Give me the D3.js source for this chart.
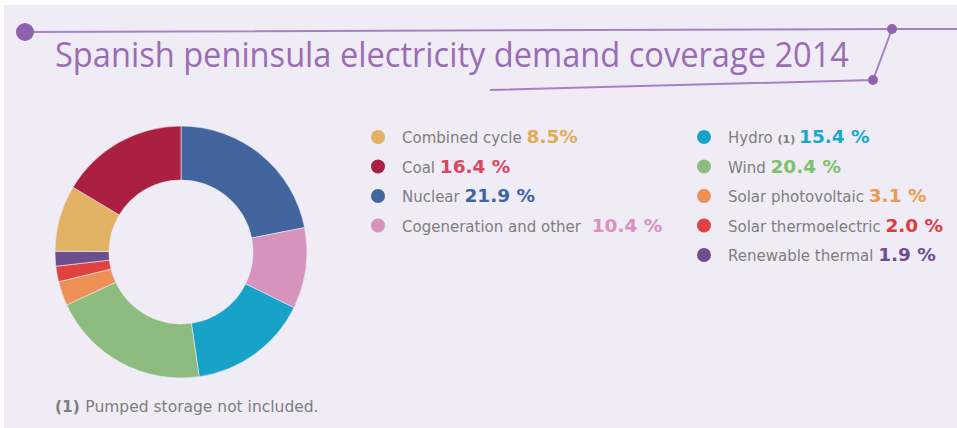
<!DOCTYPE html>
<meta charset="utf-8">
<style>
body { margin: 0; background: #fff; }
text { font-family: "DejaVu Sans", sans-serif; }
text.title { font-family: "Open Sans", sans-serif; }
</style>
<body>
<script src="https://d3js.org/d3.v7.min.js"></script>
<script>

const width = 957,
    height = 428

// slices clockwise from 12 o'clock
const sources = ['Nuclear', 'Cogeneration and other', 'Hydro', 'Wind', 'Solar photovoltaic',
    'Solar thermoelectric', 'Renewable thermal', 'Combined cycle', 'Coal']
const shares = [21.9, 10.4, 15.4, 20.4, 3.1, 2.0, 1.9, 8.5, 16.4]
const sliceColors = ['#41659c', '#d593bd', '#17a3c8', '#8dbd7e', '#ee9055',
    '#e04242', '#6c4f8e', '#e1b164', '#ab1f40']
const valueColors = ['#3e64a8', '#dc8fc0', '#1ba6cf', '#7fc06d', '#f0984d',
    '#e03a3e', '#6e4d92', '#e2ac55', '#d9475f']

// legend columns, as printed
const legendLeft = ['Combined cycle', 'Coal', 'Nuclear', 'Cogeneration and other']
const legendRight = ['Hydro', 'Wind', 'Solar photovoltaic', 'Solar thermoelectric', 'Renewable thermal']
const valueLabels = {
    'Combined cycle': '8.5%', 'Coal': '16.4 %', 'Nuclear': '21.9 %',
    'Cogeneration and other': '10.4 %', 'Hydro': '15.4 %', 'Wind': '20.4 %',
    'Solar photovoltaic': '3.1 %', 'Solar thermoelectric': '2.0 %', 'Renewable thermal': '1.9 %'
}

const title = 'Spanish peninsula electricity demand coverage 2014'
const footnote = 'Pumped storage not included.'

var svg = d3.select('body')
    .append('svg')
    .attr('width', width)
    .attr('height', height)

svg.append('rect')
    .attr('x', 4).attr('y', 5)
    .attr('width', width - 4).attr('height', height - 5)
    .attr('fill', '#efecf6')

// title decoration
var deco = svg.append('g')
    .attr('stroke', '#a583c2')
    .attr('stroke-width', 2)
    .attr('fill', 'none')

deco.append('path').attr('d', 'M25,32 L892,29 L957,29')
deco.append('path').attr('d', 'M892,29 L873,80 L490,90')

svg.append('circle').attr('cx', 25).attr('cy', 32).attr('r', 9).attr('fill', '#8f62ae')
svg.append('circle').attr('cx', 892).attr('cy', 29).attr('r', 5).attr('fill', '#8f62ae')
svg.append('circle').attr('cx', 873).attr('cy', 80).attr('r', 5).attr('fill', '#8f62ae')

svg.append('text')
    .attr('class', 'title')
    .attr('x', 55).attr('y', 67)
    .attr('fill', '#9a6cb4')
    .attr('font-size', 35)
    .attr('textLength', 794)
    .attr('lengthAdjust', 'spacingAndGlyphs')
    .text(title)

// donut
var cx = 181, cy = 252, outerR = 126, innerR = 72

var pie = d3.pie().sort(null).value(function (d) { return d })
var arc = d3.arc().innerRadius(innerR).outerRadius(outerR)
var color = d3.scaleOrdinal().domain(sources).range(sliceColors)
var valueColor = d3.scaleOrdinal().domain(sources).range(valueColors)

svg.append('g')
    .attr('transform', 'translate(' + cx + ',' + cy + ')')
    .selectAll('path')
    .data(pie(shares))
    .enter().append('path')
    .attr('d', arc)
    .attr('fill', function (d, i) { return color(sources[i]) })
    .attr('stroke', '#efecf6')
    .attr('stroke-width', 0.6)

// legend
var rowY = d3.scalePoint().domain(d3.range(5)).range([137, 255])

function drawLegend(names, x) {
    var rows = svg.append('g').selectAll('g')
        .data(names)
        .enter().append('g')
        .attr('transform', function (d, i) { return 'translate(' + x + ',' + rowY(i) + ')' })

    rows.append('circle')
        .attr('r', 7)
        .attr('fill', function (d) { return color(d) })

    var t = rows.append('text')
        .attr('x', 24).attr('y', 6)

    t.append('tspan')
        .attr('fill', '#7e7e7e')
        .attr('font-size', 15)
        .text(function (d) { return d === 'Hydro' ? 'Hydro ' : d + ' ' })

    t.filter(function (d) { return d === 'Hydro' })
        .append('tspan')
        .attr('fill', '#7e7e7e')
        .attr('font-size', 11)
        .attr('font-weight', 'bold')
        .text('(1) ')

    t.append('tspan')
        .attr('fill', function (d) { return valueColor(d) })
        .attr('font-size', 18.5)
        .attr('font-weight', 'bold')
        .attr('dx', function (d) { return d === 'Cogeneration and other' ? 6 : 0 })
        .text(function (d) { return valueLabels[d] })
}

drawLegend(legendLeft, 378)
drawLegend(legendRight, 704)

var fn = svg.append('text')
    .attr('x', 55).attr('y', 412)
    .attr('fill', '#7e7e7e')
    .attr('font-size', 15.5)

fn.append('tspan').attr('font-weight', 'bold').text('(1) ')
fn.append('tspan').text(footnote)

</script>
</body>
